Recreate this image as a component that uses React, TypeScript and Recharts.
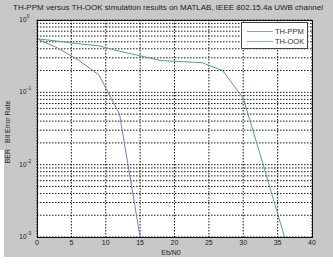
import { LineChart, Line, XAxis, YAxis, CartesianGrid } from 'recharts';

const ebn0 = [0, 3, 6, 9, 12, 15, 18, 21, 24, 27, 30, 33, 36];
const berPPM = [0.55, 0.41, 0.28, 0.174, 0.05, 0.001];
const berOOK = [0.55, 0.51, 0.47, 0.44, 0.37, 0.32, 0.275, 0.266, 0.257, 0.2, 0.083, 0.0093, 0.001];
const xTicks = [0, 5, 10, 15, 20, 25, 30, 35, 40];
const decades = [-3, -2, -1];
const seriesNames = ['TH-PPM', 'TH-OOK'];

const yTicks: number[] = [];
decades.forEach((d) => {
  for (let m = 1; m <= 9; m++) yTicks.push(Number((m * Math.pow(10, d)).toPrecision(3)));
});
yTicks.push(1);

const data = ebn0.map((x, i) => ({
  x,
  ppm: i < berPPM.length ? berPPM[i] : undefined,
  ook: berOOK[i],
}));

const FONT = '"Liberation Sans", Arial, sans-serif';
const PPM_COLOR = '#6f80c6';
const OOK_COLOR = '#52a677';

function YTick(props: any) {
  const v = props.payload.value;
  const exp = Math.round(Math.log10(v));
  if (Math.abs(Math.pow(10, exp) - v) > v * 0.01) return null;
  return (
    <g>
      <text x={26.5} y={props.y + 2} textAnchor="end" fontSize={6.5} fill="#222" fontFamily={FONT}>
        10
      </text>
      <text x={26.8} y={props.y - 2} textAnchor="start" fontSize={4.8} fill="#222" fontFamily={FONT}>
        {exp}
      </text>
    </g>
  );
}

function XTick(props: any) {
  return (
    <text x={props.x} y={245} textAnchor="middle" fontSize={7} fill="#222" fontFamily={FONT}>
      {props.payload.value}
    </text>
  );
}

function LegendBox() {
  const colors = ['#8d9bd4', '#7fbf98'];
  return (
    <div
      style={{
        position: 'absolute',
        left: 241,
        top: 22,
        width: 67,
        height: 27,
        background: '#fff',
        border: '1px solid #444',
        boxSizing: 'border-box',
        fontFamily: FONT,
        fontSize: 7.5,
        color: '#333',
        paddingTop: 3,
      }}
    >
      {seriesNames.map((name, i) => (
        <div key={name} style={{ display: 'flex', alignItems: 'center', height: 10.5 }}>
          <div style={{ width: 26, height: 1, background: colors[i], marginLeft: 5, marginRight: 2 }} />
          <span>{name}</span>
        </div>
      ))}
    </div>
  );
}

export default function App() {
  return (
    <div style={{ position: 'relative', width: 333, height: 264, background: '#fff', overflow: 'hidden' }}>
      <style>{'body{margin:0}'}</style>
      <div style={{ position: 'absolute', left: 0, top: 0, width: 333, height: 257, background: '#c8c8c8' }} />
      <div style={{ position: 'absolute', left: 0, top: 150, width: 4, height: 114, background: '#fff' }} />
      <div
        style={{
          position: 'absolute',
          left: 13,
          top: 3,
          whiteSpace: 'nowrap',
          fontFamily: FONT,
          fontSize: 8,
          color: '#222',
        }}
      >
        TH-PPM versus TH-OOK simulation results on MATLAB, IEEE 802.15.4a UWB channel
      </div>
      <div
        style={{
          position: 'absolute',
          left: 6.5,
          top: 132,
          transform: 'translate(-50%, -50%) rotate(-90deg)',
          whiteSpace: 'nowrap',
          fontFamily: FONT,
          fontSize: 7,
          color: '#222',
        }}
      >
        BER : Bit Error Rate
      </div>
      <div
        style={{
          position: 'absolute',
          left: 171,
          top: 249,
          transform: 'translateX(-50%)',
          whiteSpace: 'nowrap',
          fontFamily: FONT,
          fontSize: 7,
          color: '#222',
        }}
      >
        Eb/N0
      </div>
      <div style={{ position: 'absolute', left: 0, top: 0 }}>
        <LineChart width={333} height={264} data={data} margin={{ top: 20, right: 21, left: 0, bottom: 0 }}>
          <CartesianGrid fill="#fff" stroke="#1a1a1a" strokeDasharray="1.5 1.5" />
          <XAxis
            dataKey="x"
            type="number"
            domain={[0, 40]}
            ticks={xTicks}
            height={27}
            tick={<XTick />}
            tickLine={false}
            axisLine={false}
          />
          <YAxis
            type="number"
            scale="log"
            domain={[0.001, 1]}
            ticks={yTicks}
            allowDataOverflow
            width={37}
            tick={<YTick />}
            tickLine={false}
            axisLine={false}
            interval={0}
          />
          <Line
            type="linear"
            dataKey="ppm"
            name={seriesNames[0]}
            stroke={PPM_COLOR}
            strokeWidth={1}
            dot={false}
            isAnimationActive={false}
          />
          <Line
            type="linear"
            dataKey="ook"
            name={seriesNames[1]}
            stroke={OOK_COLOR}
            strokeWidth={1}
            dot={false}
            isAnimationActive={false}
          />
        </LineChart>
      </div>
      <LegendBox />
      <div
        style={{
          position: 'absolute',
          left: 37,
          top: 20,
          width: 276,
          height: 218,
          border: '1px solid #111',
          boxSizing: 'border-box',
          pointerEvents: 'none',
        }}
      />
    </div>
  );
}
